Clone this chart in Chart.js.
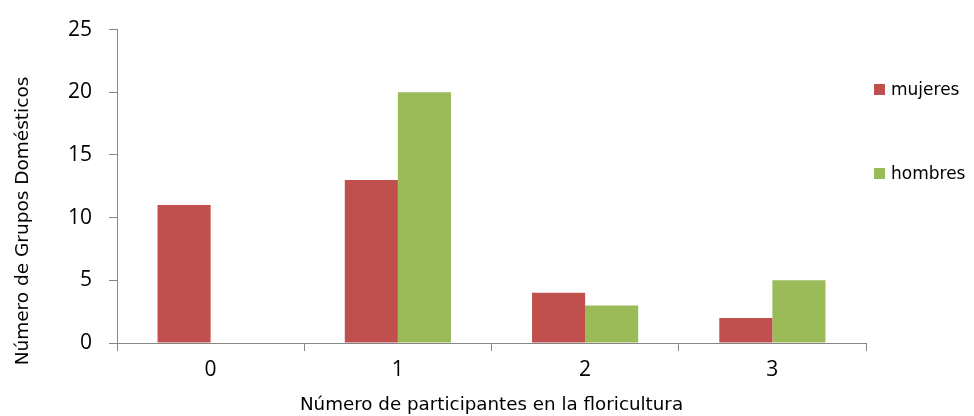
<!DOCTYPE html>
<html>
<head>
<meta charset="utf-8">
<script src="https://cdn.jsdelivr.net/npm/chart.js@4"></script>
<style>
  html, body { margin: 0; padding: 0; background: #fff; }
  #wrap { position: relative; width: 974px; height: 416px; }
  #legend { position: absolute; left: 874px; top: 0; font-family: "DejaVu Sans", sans-serif; font-size: 17px; line-height: 20px; color: #000; }
  .item { position: absolute; white-space: nowrap; }
  .box { display: inline-block; width: 11px; height: 11px; margin-right: 6px; vertical-align: 0px; }
  #ytitle { position: absolute; left: -178px; top: 210px; width: 400px; height: 22px; line-height: 22px;
            text-align: center; transform: rotate(-90deg); transform-origin: 50% 50%;
            font-family: "DejaVu Sans", sans-serif; font-size: 18.5px; color: #000; white-space: nowrap; }
</style>
</head>
<body>
<div id="wrap">
  <canvas id="chart" width="974" height="416"></canvas>
  <div id="legend"></div>
  <div id="ytitle">Número de Grupos Domésticos</div>
</div>
<script>
document.addEventListener('DOMContentLoaded', () => {
    const categories = ['0', '1', '2', '3'];
    const mujeres = [11, 13, 4, 2];
    const hombres = [0, 20, 3, 5];
    const seriesNames = ['mujeres', 'hombres'];
    const seriesColors = ['#C0504D', '#9BBB59'];

    const axisColor = '#868686';

    const ctx = document.getElementById('chart').getContext('2d');
    new Chart(ctx, {
        type: 'bar',
        data: {
            labels: categories,
            datasets: [
                { label: seriesNames[0], data: mujeres, backgroundColor: seriesColors[0] },
                { label: seriesNames[1], data: hombres, backgroundColor: seriesColors[1] }
            ]
        },
        options: {
            responsive: false,
            animation: false,
            layout: { padding: { left: 0, right: 108, top: 27, bottom: 0 } },
            datasets: { bar: { categoryPercentage: 0.567, barPercentage: 1.0 } },
            plugins: { legend: { display: false }, tooltip: { enabled: false } },
            scales: {
                x: {
                    afterFit: (scale) => { scale.height = 73; },
                    grid: { offset: true, drawOnChartArea: false, drawTicks: true, tickLength: 8, color: axisColor },
                    border: { color: axisColor, width: 1 },
                    ticks: { color: '#000', font: { family: 'Open Sans', size: 21 }, padding: 6 },
                    title: { display: true, text: 'Número de participantes en la floricultura', color: '#000',
                             font: { family: 'DejaVu Sans', size: 18.3 }, padding: { top: 0, bottom: 0 } }
                },
                y: {
                    min: 0, max: 25,
                    // title is the rotated div above, placed like the original
                    afterFit: (scale) => { scale.width = 117; },
                    grid: { drawOnChartArea: false, drawTicks: true, tickLength: 8, color: axisColor },
                    border: { color: axisColor, width: 1 },
                    ticks: { stepSize: 5, color: '#000', font: { family: 'Open Sans', size: 21 }, padding: 17 }
                }
            }
        }
    });

    const legend = document.getElementById('legend');
    const legendTops = [79, 163];
    seriesNames.forEach((name, i) => {
        const div = document.createElement('div');
        div.className = 'item';
        div.style.top = legendTops[i] + 'px';
        div.innerHTML = `<span class="box" style="background:${seriesColors[i]}"></span>${name}`;
        legend.appendChild(div);
    });
});
</script>
</body>
</html>
